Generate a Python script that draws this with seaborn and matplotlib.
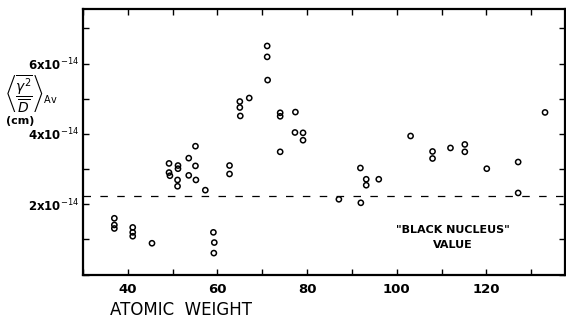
import seaborn as sns
import pandas as pd
import numpy as np
from matplotlib import pyplot as plt
from matplotlib.ticker import MultipleLocator

# atomic weight vs <gamma^2 / D>_Av, in units of 1e-14 cm
atomic_weight = [37.0, 37.0, 37.0, 41.1, 41.1, 41.1, 45.4,
                 49.2, 49.2, 49.4, 51.2, 51.2, 51.1, 51.1,
                 53.6, 53.6, 55.1, 55.1, 55.2, 57.3,
                 59.1, 59.3, 59.2, 62.7, 62.7,
                 65.0, 65.0, 65.1, 67.1, 71.1, 71.1, 71.2,
                 74.0, 74.0, 74.0, 77.4, 77.3, 79.1, 79.1,
                 87.1, 91.9, 92.0, 93.2, 93.2, 96.0,
                 103.1, 108.0, 108.0, 112.0, 115.2, 115.2,
                 120.1, 127.1, 127.1, 133.1]
gamma_ratio = [1.60, 1.41, 1.31, 1.34, 1.20, 1.09, 0.89,
               3.16, 2.90, 2.81, 3.10, 3.01, 2.69, 2.51,
               3.31, 2.82, 3.65, 3.09, 2.69, 2.40,
               1.20, 0.91, 0.61, 3.10, 2.86,
               4.92, 4.75, 4.51, 5.02, 6.50, 6.19, 5.53,
               4.60, 4.50, 3.49, 4.62, 4.04, 4.03, 3.82,
               2.14, 3.03, 2.04, 2.71, 2.54, 2.71,
               3.94, 3.50, 3.30, 3.60, 3.70, 3.49,
               3.01, 3.20, 2.32, 4.61]
black_nucleus = 2.22

y_major = [2, 4, 6]

df = pd.DataFrame({"A": atomic_weight, "ratio": gamma_ratio})

sns.set_style("ticks")
plt.rcParams["font.family"] = ["DejaVu Sans"]
plt.rcParams["mathtext.fontset"] = "dejavusans"
for key in ["text.color", "axes.labelcolor", "xtick.color", "ytick.color"]:
    plt.rcParams[key] = "black"

fig = plt.figure(figsize=(5.66, 3.23), dpi=100)
ax = fig.add_axes([0.1466, 0.150, 0.852, 0.822])

sns.scatterplot(data=df, x="A", y="ratio", marker="o", s=14,
                facecolor="none", edgecolor="black", linewidth=1.1, ax=ax)

ax.axhline(black_nucleus, color="black", lw=0.9, linestyle=(0, (6, 7.5)))

ax.set_xlim(30, 137.6)
ax.set_ylim(0, 7.55)

ax.xaxis.set_major_locator(MultipleLocator(20))
ax.xaxis.set_minor_locator(MultipleLocator(10))
ax.set_yticks(range(0, 8))
ax.set_yticklabels([f"{v}x10$^{{-14}}$" if v in y_major else "" for v in range(0, 8)])

ax.tick_params(which="both", direction="in", top=True, right=True,
               length=4, width=1.0, color="black")
ax.tick_params(axis="x", labelsize=9.5, pad=6)
ax.tick_params(axis="y", labelsize=8.5, pad=3)
for lbl in ax.get_xticklabels() + ax.get_yticklabels():
    lbl.set_fontweight("bold")

for sp in ax.spines.values():
    sp.set_linewidth(1.6)
    sp.set_color("black")

ax.set_xlabel("")
ax.set_ylabel("")

ax.text(0.056, -0.133, "ATOMIC  WEIGHT", transform=ax.transAxes, ha="left",
        va="center", fontsize=12)

fig.text(0.008, 0.708,
         r"$\left\langle\dfrac{\overline{\gamma^2}}{\overline{D}}\right\rangle_{\mathrm{Av}}$",
         ha="left", va="center", fontsize=10)
fig.text(0.036, 0.626, "(cm)", ha="center", va="center", fontsize=8,
         fontweight="bold")

ax.text(112.5, 1.05, '"BLACK NUCLEUS"\nVALUE', ha="center", va="center",
        fontsize=8, fontweight="bold", multialignment="center", linespacing=1.6)

fig.savefig("out.png", dpi=100)
